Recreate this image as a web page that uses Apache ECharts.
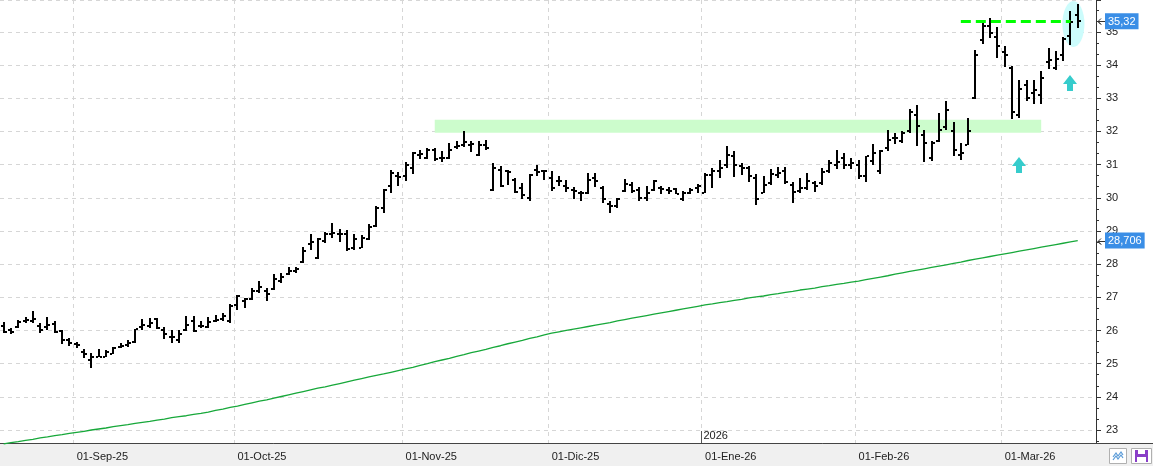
<!DOCTYPE html>
<html>
<head>
<meta charset="utf-8">
<script src="https://cdn.jsdelivr.net/npm/echarts@6.0.0/dist/echarts.min.js"></script>
<style>
  html, body { margin: 0; padding: 0; background: #fff; }
  #chart { width: 1153px; height: 466px; }
</style>
</head>
<body>
<div id="chart"></div>
<script>
// trading days: Aug 18 2025 .. Mar 16 2026 (+2 empty slots on the right)
const startDay = '2025-08-18';
const dayCount = 150;
const holidays = ['2025-12-25', '2025-12-26', '2026-01-01'];
const monthNames = ['Ene', 'Feb', 'Mar', 'Abr', 'May', 'Jun', 'Jul', 'Ago', 'Sep', 'Oct', 'Nov', 'Dic'];

const opens = [
  26.15, 26.00, 26.10, 26.30, 26.28, 26.15, 26.10, 26.20, 25.98, 25.70,
  25.60, 25.35, 25.10, 25.20, 25.20, 25.30, 25.50, 25.55, 25.65, 26.10,
  26.15, 26.35, 26.00, 25.80, 25.70, 26.00, 26.30, 26.15, 26.12, 26.30,
  26.35, 26.30, 26.78, 26.90, 26.96, 27.20, 27.20, 27.25, 27.50, 27.70,
  27.80, 28.05, 28.60, 28.20, 28.70, 28.90, 28.92, 28.90, 28.50, 28.50,
  28.75, 29.15, 29.70, 30.37, 30.65, 30.65, 30.90, 31.30, 31.20, 31.45,
  31.20, 31.20, 31.52, 31.60, 31.60, 31.28, 31.60, 30.25, 30.85, 30.80,
  30.55, 30.30, 30.00, 30.85, 30.80, 30.60, 30.50, 30.35, 30.25, 30.15,
  30.15, 30.60, 30.30, 29.80, 29.75, 30.20, 30.40, 30.25, 30.00, 30.25,
  30.30, 30.25, 30.27, 29.95, 30.15, 30.30, 30.15, 30.70, 30.80, 31.00,
  31.27, 30.95, 30.90, 30.60, 30.15, 30.45, 30.70, 30.80, 30.40, 30.20,
  30.30, 30.45, 30.45, 30.80, 31.00, 31.20, 31.00, 31.00, 30.65, 31.10,
  30.80, 31.50, 31.80, 31.70, 32.00, 32.50, 31.90, 31.20, 31.70, 32.13,
  32.00, 31.30, 31.60, 33.00, 34.77, 35.19, 34.85, 34.40, 33.90, 32.50,
  33.40, 33.16, 33.10, 34.10, 33.90, 34.29, 34.87, 35.50
];
const highs = [
  26.27, 26.07, 26.32, 26.40, 26.59, 26.22, 26.40, 26.30, 26.00, 25.78,
  25.66, 25.43, 25.31, 25.43, 25.40, 25.51, 25.63, 25.71, 26.04, 26.34,
  26.37, 26.37, 26.10, 26.00, 26.00, 26.43, 26.43, 26.28, 26.40, 26.48,
  26.53, 26.81, 27.08, 26.98, 27.28, 27.48, 27.28, 27.69, 27.74, 27.92,
  27.92, 28.52, 28.92, 28.79, 28.96, 29.25, 29.06, 29.02, 28.92, 28.89,
  29.20, 29.75, 30.27, 30.83, 30.77, 31.07, 31.38, 31.45, 31.50, 31.50,
  31.40, 31.65, 31.72, 32.00, 31.70, 31.70, 31.75, 31.05, 30.95, 30.85,
  30.60, 30.45, 30.73, 31.00, 30.85, 30.82, 30.65, 30.53, 30.33, 30.20,
  30.75, 30.75, 30.35, 29.90, 30.00, 30.57, 30.47, 30.33, 30.35, 30.55,
  30.37, 30.33, 30.30, 30.20, 30.30, 30.43, 30.75, 30.90, 31.15, 31.55,
  31.40, 31.05, 30.97, 30.73, 30.65, 30.87, 30.93, 30.93, 30.47, 30.60,
  30.75, 30.50, 30.90, 31.13, 31.45, 31.35, 31.20, 31.15, 31.27, 31.62,
  31.45, 32.05, 31.95, 32.00, 32.67, 32.80, 32.03, 31.70, 32.55, 32.92,
  32.30, 31.65, 32.40, 34.47, 35.37, 35.42, 35.15, 34.57, 33.98, 33.56,
  33.54, 33.56, 33.81, 34.52, 34.42, 34.85, 35.62, 35.85
];
const lows = [
  25.91, 25.90, 26.06, 26.22, 26.24, 25.93, 26.00, 25.91, 25.60, 25.52,
  25.46, 25.18, 24.86, 25.19, 25.19, 25.28, 25.46, 25.50, 25.62, 26.02,
  26.07, 26.04, 25.73, 25.62, 25.63, 25.98, 25.95, 26.08, 26.08, 26.25,
  26.28, 26.23, 26.63, 26.68, 26.93, 27.13, 26.88, 27.23, 27.43, 27.66,
  27.74, 28.02, 28.44, 28.16, 28.64, 28.79, 28.66, 28.41, 28.44, 28.49,
  28.74, 29.12, 29.53, 30.15, 30.35, 30.50, 30.72, 31.17, 31.17, 31.10,
  31.07, 31.17, 31.47, 31.53, 31.37, 31.27, 31.45, 30.22, 30.33, 30.40,
  30.15, 29.97, 29.90, 30.65, 30.53, 30.20, 30.37, 30.17, 29.97, 29.90,
  30.12, 30.33, 29.85, 29.53, 29.70, 30.17, 30.15, 29.90, 29.90, 30.20,
  30.12, 30.12, 30.10, 29.90, 30.10, 30.13, 30.13, 30.30, 30.60, 30.90,
  30.62, 30.70, 30.47, 29.77, 30.13, 30.40, 30.60, 30.42, 29.83, 30.13,
  30.23, 30.17, 30.40, 30.75, 30.87, 30.87, 30.87, 30.57, 30.47, 31.00,
  30.73, 31.40, 31.63, 31.65, 31.95, 31.57, 31.07, 31.10, 31.67, 32.04,
  31.27, 31.13, 31.58, 32.98, 34.64, 34.82, 34.22, 33.94, 32.38, 32.41,
  32.91, 32.84, 32.84, 33.88, 33.86, 34.12, 34.62, 35.12
];
const closes = [
  25.96, 25.95, 26.25, 26.33, 26.35, 26.00, 26.16, 25.96, 25.72, 25.62,
  25.55, 25.28, 25.20, 25.20, 25.36, 25.46, 25.52, 25.62, 26.03, 26.16,
  26.22, 26.07, 25.90, 25.80, 25.90, 26.18, 25.97, 26.15, 26.25, 26.33,
  26.43, 26.75, 27.05, 26.96, 27.20, 27.32, 27.10, 27.55, 27.62, 27.80,
  27.85, 28.40, 28.68, 28.75, 28.92, 28.95, 28.90, 28.45, 28.75, 28.78,
  29.12, 29.70, 30.25, 30.75, 30.62, 30.98, 31.35, 31.33, 31.45, 31.17,
  31.20, 31.45, 31.55, 31.67, 31.62, 31.60, 31.50, 30.90, 30.35, 30.78,
  30.17, 30.07, 30.70, 30.78, 30.82, 30.30, 30.50, 30.30, 30.20, 30.15,
  30.55, 30.50, 29.97, 29.75, 29.95, 30.43, 30.20, 30.00, 30.15, 30.50,
  30.27, 30.20, 30.12, 30.15, 30.25, 30.35, 30.70, 30.80, 30.90, 31.30,
  31.00, 30.90, 30.65, 29.97, 30.40, 30.73, 30.75, 30.47, 30.17, 30.30,
  30.50, 30.35, 30.77, 31.05, 31.07, 31.00, 31.05, 30.67, 31.25, 31.35,
  31.40, 31.75, 31.80, 31.95, 32.60, 32.17, 31.65, 31.65, 32.05, 32.66,
  31.45, 31.35, 32.02, 34.29, 35.19, 34.97, 34.57, 34.30, 32.60, 33.28,
  33.00, 33.25, 33.60, 34.14, 34.17, 34.80, 35.30, 35.32
];
// long moving average (green line)
const movingAvg = [
  22.58, 22.62, 22.65, 22.69, 22.72, 22.76, 22.79, 22.83, 22.86, 22.90,
  22.93, 22.96, 23.00, 23.03, 23.06, 23.10, 23.13, 23.16, 23.20, 23.23,
  23.26, 23.30, 23.33, 23.37, 23.40, 23.43, 23.47, 23.50, 23.54, 23.59,
  23.63, 23.68, 23.72, 23.77, 23.82, 23.87, 23.91, 23.96, 24.01, 24.06,
  24.11, 24.16, 24.21, 24.26, 24.30, 24.35, 24.40, 24.45, 24.50, 24.55,
  24.60, 24.65, 24.69, 24.74, 24.79, 24.84, 24.89, 24.95, 25.00, 25.06,
  25.11, 25.16, 25.22, 25.27, 25.33, 25.38, 25.43, 25.49, 25.54, 25.60,
  25.65, 25.70, 25.76, 25.81, 25.87, 25.92, 25.96, 26.00, 26.04, 26.08,
  26.12, 26.16, 26.20, 26.24, 26.29, 26.33, 26.37, 26.41, 26.45, 26.49,
  26.53, 26.57, 26.61, 26.65, 26.69, 26.73, 26.77, 26.80, 26.84, 26.87,
  26.91, 26.94, 26.98, 27.01, 27.04, 27.08, 27.11, 27.15, 27.18, 27.22,
  27.25, 27.28, 27.32, 27.35, 27.39, 27.42, 27.46, 27.49, 27.53, 27.57,
  27.61, 27.65, 27.70, 27.74, 27.78, 27.82, 27.86, 27.90, 27.94, 27.98,
  28.02, 28.06, 28.11, 28.15, 28.19, 28.23, 28.27, 28.31, 28.35, 28.39,
  28.43, 28.47, 28.51, 28.55, 28.59, 28.63, 28.67, 28.706
];

// annotations drawn on the chart
const supportBand = { from: 59, to: 142, top: 32.35, bottom: 31.96 };
const topLine = { from: 131, to: 146, value: 35.33 };
const upArrows = [[139, 31.0], [146, 33.46]];
const circled = [[146, 35.24]];

function buildDays(start, count) {
  const out = [];
  const d = new Date(start + 'T12:00:00Z');
  while (out.length < count) {
    const s = d.toISOString().slice(0, 10);
    const wd = d.getUTCDay();
    if (wd !== 0 && wd !== 6 && holidays.indexOf(s) < 0) out.push(s);
    d.setUTCDate(d.getUTCDate() + 1);
  }
  return out;
}
const days = buildDays(startDay, dayCount);

function isMonthStart(idx) {
  if (idx === 0 || idx >= days.length) return false;
  return days[idx].slice(5, 7) !== days[idx - 1].slice(5, 7);
}
function monthLabel(v) {
  return '01-' + monthNames[+v.slice(5, 7) - 1] + '-' + v.slice(2, 4);
}
const fmt = (v) => String(v).replace('.', ',');

const FONT = 'Liberation Sans, Arial, sans-serif';
const ohlc = opens.map((o, i) => [i, o, highs[i], lows[i], closes[i]]);
const last = closes.length - 1;
const priceTags = [closes[last], movingAvg[last]];

const chart = echarts.init(document.getElementById('chart'));

const option = {
  animation: false,
  backgroundColor: '#fff',
  grid: { left: -2, right: 57, top: 0, bottom: 23 },
  xAxis: {
    type: 'category',
    data: days,
    boundaryGap: true,
    axisLine: { lineStyle: { color: '#444', width: 1 } },
    axisTick: { length: 9, interval: (i) => isMonthStart(i), lineStyle: { color: '#444' } },
    axisLabel: {
      interval: (i) => isMonthStart(i),
      formatter: monthLabel,
      align: 'left',
      margin: 8,
      color: '#222',
      fontFamily: FONT,
      fontSize: 11
    },
    splitLine: {
      show: true,
      interval: (i) => isMonthStart(i),
      lineStyle: { color: '#d6d6d6', type: [4, 4] }
    }
  },
  yAxis: {
    type: 'value',
    position: 'right',
    min: 22.608,
    max: 35.963,
    splitNumber: 13,
    axisLine: { show: true, lineStyle: { color: '#333' } },
    axisTick: { show: true, length: 5, lineStyle: { color: '#333' } },
    minorTick: { show: true, splitNumber: 3, length: 3, lineStyle: { color: '#333' } },
    axisLabel: {
      margin: 10,
      color: '#222',
      fontFamily: FONT,
      fontSize: 11,
      showMinLabel: false,
      showMaxLabel: false,
      formatter: (v) => (Number.isInteger(v) ? String(v) : '')
    },
    splitLine: { show: true, lineStyle: { color: '#d6d6d6', type: [4, 4] } }
  },
  series: [
    {
      // light cyan ellipse around the last bars
      type: 'custom',
      z: 1,
      silent: true,
      data: circled,
      renderItem: (params, api) => {
        const p = api.coord([api.value(0), api.value(1)]);
        return {
          type: 'circle',
          x: p[0] + 3,
          y: p[1],
          scaleX: 0.48,
          shape: { cx: 0, cy: 0, r: 23 },
          style: { fill: '#ccfcfc' }
        };
      }
    },
    {
      type: 'line',
      name: 'MA',
      data: movingAvg,
      symbol: 'none',
      z: 2,
      clip: false,
      lineStyle: { color: '#17a83a', width: 1.3 },
      markLine: {
        silent: true,
        symbol: ['none', 'none'],
        lineStyle: { color: 'rgba(0,0,0,0)', width: 0 },
        label: {
          position: 'end',
          distance: 9,
          formatter: (p) => '{b|' + fmt(priceTags[p.dataIndex]) + '}',
          rich: {
            b: {
              color: '#fff', fontSize: 11, fontFamily: FONT,
              backgroundColor: '#3a8ee6', padding: [3, 3, 2, 3]
            }
          }
        },
        data: [{ yAxis: priceTags[0] }, { yAxis: priceTags[1] }]
      }
    },
    {
      // small "←" pointers beside the price tags on the right axis
      type: 'custom',
      z: 6,
      silent: true,
      clip: false,
      data: priceTags.map((v) => [last, v]),
      renderItem: (params, api) => {
        const y = Math.round(api.coord([api.value(0), api.value(1)])[1]) + 0.5;
        const x = params.coordSys.x + params.coordSys.width + 2;
        return {
          type: 'polyline',
          shape: { points: [[x + 3, y - 3], [x, y], [x + 3, y + 3], [x, y], [x + 7, y]] },
          style: { stroke: '#333', lineWidth: 1, fill: null }
        };
      }
    },
    {
      type: 'custom',
      name: 'OHLC',
      z: 3,
      data: ohlc,
      encode: { x: 0, y: [1, 2, 3, 4] },
      renderItem: (params, api) => {
        const i = api.value(0);
        const x = Math.round(api.coord([i, api.value(1)])[0]);
        const yO = Math.round(api.coord([i, api.value(1)])[1]);
        const yH = Math.round(api.coord([i, api.value(2)])[1]);
        const yL = Math.round(api.coord([i, api.value(3)])[1]);
        const yC = Math.round(api.coord([i, api.value(4)])[1]);
        return {
          type: 'group',
          children: [
            { type: 'rect', shape: { x: x - 1, y: yH, width: 2, height: Math.max(1, yL - yH) }, style: { fill: '#000' } },
            { type: 'rect', shape: { x: x - 3, y: yO - 1, width: 2, height: 2 }, style: { fill: '#000' } },
            { type: 'rect', shape: { x: x + 1, y: yC - 1, width: 2, height: 2 }, style: { fill: '#000' } }
          ]
        };
      },
      markArea: {
        silent: true,
        itemStyle: { color: '#ccfccc' },
        data: [[
          { coord: [supportBand.from, supportBand.top] },
          { coord: [supportBand.to, supportBand.bottom] }
        ]]
      },
      markLine: {
        silent: true,
        symbol: ['none', 'none'],
        label: { show: false },
        lineStyle: { color: '#00ff00', width: 3, type: [10, 5] },
        data: [[
          { coord: [topLine.from, topLine.value] },
          { coord: [topLine.to, topLine.value] }
        ]]
      }
    },
    {
      // teal up arrows
      type: 'custom',
      z: 4,
      silent: true,
      data: upArrows,
      renderItem: (params, api) => {
        const p = api.coord([api.value(0), api.value(1)]);
        const cx = Math.round(p[0]);
        const cy = Math.round(p[1]);
        return {
          type: 'polygon',
          shape: {
            points: [
              [cx, cy - 8], [cx + 7, cy + 1], [cx + 3, cy + 1], [cx + 3, cy + 8],
              [cx - 3, cy + 8], [cx - 3, cy + 1], [cx - 7, cy + 1]
            ]
          },
          style: { fill: '#36cccc' }
        };
      }
    }
  ]
};

chart.setOption(option);

// bottom strip, year marker and the two small buttons
const janIdx = days.indexOf('2026-01-02');
const cx0 = chart.convertToPixel({ xAxisIndex: 0 }, days[janIdx]);
const cx1 = chart.convertToPixel({ xAxisIndex: 0 }, days[janIdx + 1]);
const yearX = Math.round(cx0 - (cx1 - cx0) / 2) + 0.5;

chart.setOption({
  graphic: [
    { type: 'rect', z: -10, left: 0, top: 443, shape: { width: 1153, height: 23 }, style: { fill: '#f0f0f0' } },
    { type: 'line', z: 10, shape: { x1: 1096, y1: 443.5, x2: 1153, y2: 443.5 }, style: { stroke: '#444', lineWidth: 1 } },
    { type: 'line', z: 10, shape: { x1: yearX, y1: 431, x2: yearX, y2: 443 }, style: { stroke: '#555', lineWidth: 1 } },
    { type: 'text', z: 10, x: yearX + 2, y: 430, style: { text: '2026', font: '11px ' + FONT, fill: '#222' } },
    {
      type: 'group', left: 1109, top: 448, z: 10,
      children: [
        { type: 'rect', shape: { x: 0.5, y: 0.5, width: 17, height: 15 }, style: { fill: '#fff', stroke: '#b0b0b0' } },
        { type: 'polyline', shape: { points: [[4, 9], [7, 5], [9, 8], [12, 4], [14, 7]] }, style: { stroke: '#5a9bd8', lineWidth: 1.2, fill: null } },
        { type: 'polyline', shape: { points: [[4, 12], [7, 8], [9, 11], [12, 7], [14, 10]] }, style: { stroke: '#5a9bd8', lineWidth: 1.2, fill: null } },
        { type: 'rect', shape: { x: 22.5, y: 0.5, width: 20, height: 15 }, style: { fill: '#fff', stroke: '#b0b0b0' } },
        { type: 'rect', shape: { x: 26, y: 2, width: 13, height: 12 }, style: { fill: '#8a3fc8' } },
        { type: 'rect', shape: { x: 29, y: 2, width: 7, height: 4 }, style: { fill: '#fff' } },
        { type: 'rect', shape: { x: 28, y: 9, width: 9, height: 5 }, style: { fill: '#fff' } }
      ]
    }
  ]
});
</script>
</body>
</html>
